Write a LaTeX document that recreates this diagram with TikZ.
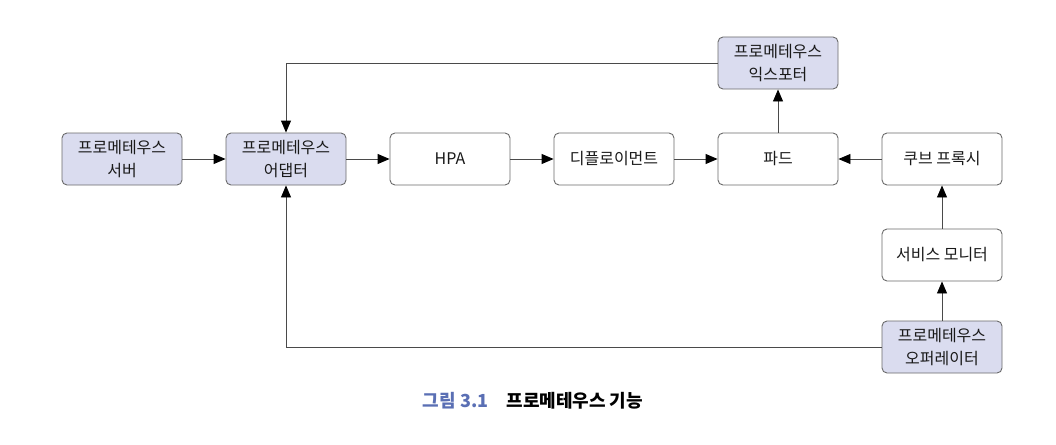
\documentclass[tikz,border=0pt]{standalone}
\usepackage{fontspec}
\setmainfont{Noto Sans CJK KR}
\newfontfamily\kr{Noto Sans CJK KR}
\usetikzlibrary{arrows.meta}
\definecolor{boxfill}{HTML}{DADCEF}
\definecolor{boxline}{HTML}{6A6A6A}
\definecolor{conn}{HTML}{4A4A4A}
\definecolor{capblue}{HTML}{5A6FB4}
\tikzset{
  box/.style={draw=boxline, line width=0.9pt, rounded corners=5pt, minimum width=120pt, minimum height=52pt, inner sep=0pt, align=center, font=\kr\fontsize{16}{23}\selectfont, text=black!90},
  pbox/.style={box, fill=boxfill},
  wbox/.style={box, fill=white},
  arr/.style={draw=conn, line width=0.9pt, -{Triangle[length=12pt,width=10pt,color=black]}},
}
\begin{document}
\begin{tikzpicture}[x=1pt,y=-1pt]
\useasboundingbox (0,0) rectangle (1056,444);
\node[pbox] (server) at (122,159) {프로메테우스\\서버};
\node[pbox] (adapter) at (286,159) {프로메테우스\\어댑터};
\node[wbox] (hpa) at (450,159) {HPA};
\node[wbox] (deploy) at (614,159) {디플로이먼트};
\node[wbox] (pod) at (778,159) {파드};
\node[wbox] (kube) at (942,159) {쿠브 프록시};
\node[pbox] (exporter) at (778,63) {프로메테우스\\익스포터};
\node[wbox] (monitor) at (942,255) {서비스 모니터};
\node[pbox] (operator) at (942,347) {프로메테우스\\오퍼레이터};
\coordinate (c1) at (286,63);
\coordinate (c2) at (286,347);
\draw[arr] (server) -- (adapter);
\draw[arr] (adapter) -- (hpa);
\draw[arr] (hpa) -- (deploy);
\draw[arr] (deploy) -- (pod);
\draw[arr] (kube) -- (pod);
\draw[arr] (pod) -- (exporter);
\draw[arr] (monitor) -- (kube);
\draw[arr] (operator) -- (monitor);
\draw[arr] (exporter.west) -- (c1) -- (adapter.north);
\draw[arr] (operator.west) -- (c2) -- (adapter.south);
\node[font=\kr\bfseries\fontsize{18}{21}\selectfont, anchor=center] (cap) at (533,401) {\textcolor{capblue}{그림 3.1}\hspace{18pt}프로메테우스 기능};
\end{tikzpicture}
\end{document}
